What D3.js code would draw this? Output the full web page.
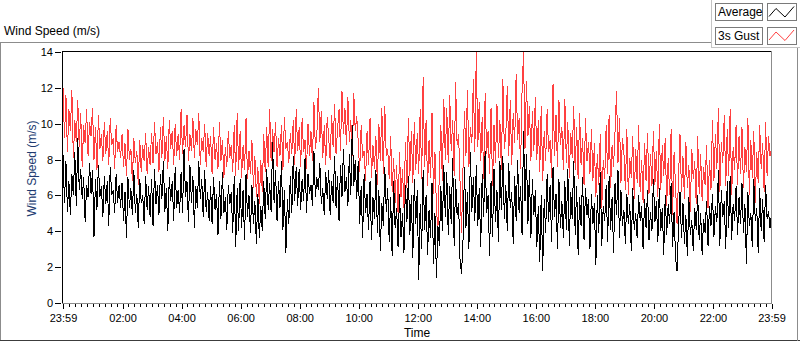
<!DOCTYPE html>
<html>
<head>
<meta charset="utf-8">
<script src="https://cdn.jsdelivr.net/npm/d3@7"></script>
<style>
  body { margin: 0; background: #fff; }
  svg text { font-family: "Liberation Sans", Arial, sans-serif; fill: #000; }
</style>
</head>
<body>
<script>
// one sample every 3 minutes, 23:59 -> 23:59
var sampleMinutes = 3;
var xTickLabels = ["23:59", "02:00", "04:00", "06:00", "08:00", "10:00", "12:00",
                   "14:00", "16:00", "18:00", "20:00", "22:00", "23:59"];
var yTicks = [0, 2, 4, 6, 8, 10, 12, 14];
var seriesNames = ["Average", "3s Gust"];

// Average wind speed (m/s), 20 samples per hour
var avgSpeed = [
  8.3,5.6,7.9,5.1,6.8,4.9,7.2,6.0,8.4,5.4,9.2,6.3,7.5,5.8,7.0,4.5,6.6,5.9,7.8,6.1,
  7.4,3.7,6.9,5.2,7.7,5.9,6.5,4.8,7.1,5.5,6.8,4.3,7.6,6.0,6.3,5.0,7.2,5.6,6.6,5.3,
  6.7,4.6,6.2,3.6,7.0,5.3,6.4,4.9,7.4,5.0,6.1,4.2,6.9,5.6,6.0,4.4,7.1,5.2,6.5,4.8,
  6.9,4.3,7.5,5.5,6.6,4.9,7.2,5.8,7.9,5.1,6.4,4.0,7.0,5.7,6.8,4.6,7.6,5.3,6.3,5.0,
  7.3,5.0,8.6,5.9,6.8,4.5,7.7,5.6,7.1,4.2,6.5,5.3,7.9,5.8,6.9,4.8,7.4,5.1,6.2,4.6,
  6.5,4.4,7.0,5.2,6.1,3.8,6.8,4.7,7.3,5.0,5.9,4.1,6.6,5.5,6.2,3.9,7.1,3.1,6.4,4.0,
  6.9,4.2,6.3,3.5,7.2,4.8,6.0,3.9,6.6,4.4,5.7,3.3,6.1,3.6,5.4,4.0,6.8,4.7,7.5,5.2,
  6.7,5.1,9.0,5.6,7.4,4.6,6.8,5.3,7.9,4.1,6.3,2.8,5.8,4.4,7.1,5.0,8.2,5.7,7.6,5.4,
  7.5,5.2,6.9,5.7,8.1,5.0,7.2,6.1,6.6,5.4,8.5,5.9,7.0,6.3,7.8,5.5,6.4,4.9,7.3,5.8,
  7.4,4.9,6.8,5.6,8.2,5.3,7.1,4.6,7.7,5.9,8.6,6.2,7.0,5.4,8.3,6.0,9.9,6.5,8.0,5.8,
  7.9,4.4,6.5,3.6,7.2,5.0,6.1,4.1,6.8,3.5,5.9,4.7,7.4,3.9,6.3,2.9,5.6,4.3,7.6,5.1,
  6.4,3.4,5.9,2.6,6.8,4.2,5.3,3.1,6.1,3.7,5.0,2.8,6.6,4.5,7.1,3.8,6.0,2.5,6.9,4.4,
  6.3,1.3,5.5,3.0,7.4,4.1,6.0,2.7,5.2,3.6,6.7,2.2,5.0,1.4,4.3,3.2,6.5,4.0,7.7,4.8,
  7.3,3.8,6.5,4.4,8.1,3.2,6.9,4.9,5.6,2.4,1.6,3.5,7.6,4.2,6.2,3.0,8.4,5.1,7.0,4.6,
  7.7,4.3,6.4,3.1,7.2,4.8,8.5,5.0,6.0,2.6,6.8,3.7,7.5,4.5,6.3,3.4,7.9,5.2,8.2,4.7,
  6.6,4.0,7.8,5.3,6.2,3.3,7.1,4.6,8.0,5.0,6.5,3.8,9.6,5.7,8.3,4.4,7.4,3.6,6.9,4.9,
  6.3,3.1,5.4,2.3,6.0,1.8,5.8,3.9,7.2,4.5,6.6,3.4,7.6,4.8,6.1,3.0,6.9,4.2,5.7,3.6,
  6.8,4.1,7.5,3.2,6.2,4.7,7.9,3.8,6.5,2.7,5.9,4.3,7.0,3.5,6.4,4.9,5.8,3.0,6.1,4.4,
  5.6,2.1,6.0,3.9,7.3,3.2,5.4,4.6,6.6,3.4,7.1,4.1,5.9,2.8,6.7,4.9,7.4,3.6,6.3,4.3,
  5.2,3.3,6.1,4.4,5.5,2.9,6.4,4.1,5.0,3.6,6.0,4.6,5.4,3.0,5.8,4.2,6.3,3.5,5.1,4.0,
  6.9,4.5,5.7,3.4,6.4,4.0,5.3,2.7,6.0,3.8,5.5,4.4,6.7,3.1,5.1,2.5,1.8,4.2,6.2,3.6,
  5.6,3.3,4.9,2.6,5.9,3.8,4.6,2.9,5.3,4.1,6.0,3.5,5.0,2.7,4.7,3.9,5.7,3.2,5.4,4.3,
  6.1,3.7,5.4,4.5,7.4,3.2,6.3,4.8,5.7,3.0,6.8,4.2,7.1,3.5,5.5,4.6,6.5,3.8,5.9,4.4,
  6.7,3.9,5.5,2.2,6.2,4.3,5.0,3.1,6.9,4.6,5.3,2.8,6.4,4.0,5.8,3.4,6.6,4.7,5.1,4.2,
  5.0
];

// 3 second gust (m/s), 20 samples per hour
var gustSpeed = [
  12.0,9.2,11.6,8.4,10.8,9.6,11.9,8.1,10.2,9.0,11.3,8.7,10.6,7.6,9.9,8.9,10.8,8.2,10.1,9.3,
  10.9,8.0,9.8,7.4,10.5,8.6,9.4,7.9,10.1,8.3,9.6,7.7,10.3,8.8,9.2,7.5,9.9,8.4,9.0,8.1,
  9.4,7.6,8.9,7.1,9.7,8.0,8.6,6.8,9.2,7.8,8.5,6.6,9.1,7.3,8.8,7.9,9.5,7.2,8.7,7.7,
  9.5,7.8,10.1,8.3,9.0,7.3,9.8,8.1,10.4,7.9,9.3,7.5,10.2,8.6,9.6,7.7,10.0,8.2,9.4,8.0,
  10.8,8.3,9.9,8.7,10.5,7.9,9.4,8.5,10.3,8.1,9.7,8.8,10.6,7.7,9.2,8.4,10.0,7.6,9.5,8.2,
  9.3,7.2,9.8,8.0,8.9,7.5,10.1,7.9,9.1,7.0,8.7,7.6,9.6,8.1,8.8,7.3,9.9,7.1,10.6,7.4,
  9.6,7.0,8.8,7.4,10.3,6.9,8.5,7.2,9.1,6.4,8.2,5.9,7.6,5.5,8.0,6.2,9.4,7.3,9.8,7.6,
  10.8,7.9,9.7,8.4,10.1,7.6,9.2,8.2,9.9,7.4,10.4,8.6,9.0,7.8,9.5,8.3,10.2,7.7,10.8,8.5,
  9.8,7.6,10.3,8.4,9.1,7.5,10.0,8.2,9.6,7.9,11.2,8.6,9.4,12.0,9.0,10.7,8.1,9.9,7.7,10.4,
  9.2,8.0,10.5,8.7,11.1,8.3,9.7,10.8,8.5,11.8,9.4,10.9,8.8,11.5,9.0,10.2,8.2,11.7,9.6,10.4,
  9.0,7.3,9.9,8.1,8.5,6.8,9.6,7.7,10.3,7.0,8.8,7.5,9.3,6.6,10.0,7.9,10.9,7.2,11.0,8.2,
  8.6,6.9,9.3,6.2,8.1,5.6,7.7,5.0,8.4,5.9,7.5,5.3,9.0,6.4,10.3,7.1,9.6,6.7,10.1,7.4,
  9.5,7.2,10.8,6.9,12.6,7.6,10.2,6.5,9.1,7.0,10.6,6.1,8.4,5.2,4.1,7.4,9.9,6.8,11.4,8.0,
  10.9,7.8,11.6,8.5,10.2,7.1,12.3,8.8,9.4,6.7,3.9,7.5,10.7,8.2,11.9,7.6,9.8,8.9,12.5,8.4,
  14.0,8.7,11.2,7.9,10.4,6.9,11.7,8.3,9.6,7.2,10.9,6.5,9.9,7.8,11.1,8.1,10.2,7.4,12.5,8.6,
  9.4,12.1,8.2,11.3,7.7,10.6,8.9,12.8,9.1,10.3,7.5,11.8,14.0,8.6,12.4,9.3,11.0,7.9,10.7,8.5,
  11.5,8.0,10.2,7.3,11.0,6.8,9.6,7.9,10.8,8.4,9.1,7.0,12.2,8.2,10.5,7.6,11.3,8.8,9.8,7.4,
  11.4,7.8,10.1,7.0,9.5,8.1,11.0,7.4,9.8,6.9,10.6,7.7,9.2,6.6,10.3,7.9,9.0,7.2,9.7,6.8,
  8.9,5.9,8.3,6.6,9.4,5.3,8.0,6.9,9.9,7.2,10.5,6.4,8.8,7.6,9.6,11.8,7.8,10.3,6.7,9.2,
  8.4,6.3,9.7,6.0,8.1,7.0,9.3,5.8,8.6,6.7,9.9,6.2,8.0,5.6,8.9,6.8,9.5,6.1,8.3,6.5,
  9.6,6.6,8.5,5.9,10.0,6.3,8.8,7.1,9.2,5.4,8.1,6.0,9.7,4.9,8.4,6.5,4.4,7.0,9.4,6.2,
  8.2,5.8,9.0,6.4,7.7,5.1,8.6,6.9,7.9,5.5,9.3,6.1,8.3,5.7,7.6,6.6,8.8,5.3,8.0,6.3,
  10.2,6.8,9.4,7.5,10.9,6.2,9.0,7.8,10.5,6.5,9.7,7.1,10.8,6.0,8.7,7.4,9.9,6.6,9.3,7.2,
  9.8,6.4,8.7,7.3,10.3,6.0,9.1,7.0,9.6,5.6,8.4,6.7,9.9,7.5,8.9,6.2,10.1,7.1,9.3,8.2,
  8.6
];

var width = 800;
var height = 342;

var svg = d3.select("body")
  .append("svg")
  .attr("width", width)
  .attr("height", height);

var start = new Date(2015, 5, 1, 23, 59);
var end = new Date(2015, 5, 2, 23, 59);

var x = d3.scaleTime()
  .domain([start, end])
  .range([63, 771.5]);

var y = d3.scaleLinear()
  .domain([0, 14])
  .range([303, 52]);

function sampleTime(i) {
  return new Date(start.getTime() + i * sampleMinutes * 60000);
}

// frame lines
function hline(x1, x2, yy, col) {
  svg.append("line").attr("x1", x1).attr("x2", x2).attr("y1", yy).attr("y2", yy)
    .attr("stroke", col).attr("shape-rendering", "crispEdges");
}
function vline(xx, y1, y2, col) {
  svg.append("line").attr("x1", xx).attr("x2", xx).attr("y1", y1).attr("y2", y2)
    .attr("stroke", col).attr("shape-rendering", "crispEdges");
}

hline(0, 712, 42.5, "#8c8c8c");
vline(0.5, 42, 341, "#8c8c8c");
hline(0, 800, 340.5, "#3c3c3c");
vline(797.5, 48, 341, "#8c8c8c");
// legend panel
vline(711.5, 0, 48, "#c4c4c4");
hline(711, 800, 47.5, "#c4c4c4");

svg.append("text")
  .attr("x", 4)
  .attr("y", 35)
  .style("font-size", "12px")
  .text("Wind Speed (m/s)");

// data
svg.append("clipPath").attr("id", "plotclip")
  .append("rect").attr("x", 63).attr("y", 52).attr("width", 709).attr("height", 251);

var line = d3.line()
  .x(function(d, i) { return x(sampleTime(i)); })
  .y(function(d) { return y(d); });

var plot = svg.append("g").attr("clip-path", "url(#plotclip)");

plot.append("path")
  .datum(gustSpeed)
  .attr("d", line)
  .attr("fill", "none")
  .attr("stroke", "#ff4040")
  .attr("stroke-width", 1)
  .attr("shape-rendering", "crispEdges");

plot.append("path")
  .datum(avgSpeed)
  .attr("d", line)
  .attr("fill", "none")
  .attr("stroke", "#000")
  .attr("stroke-width", 1)
  .attr("shape-rendering", "crispEdges");

// plot border
hline(62, 772, 51.5, "#000");
vline(62.5, 51, 303, "#000");
vline(771.5, 51, 303.5, "#8c8c8c");
hline(62, 772, 303.5, "#8c8c8c");

// y axis
var yaxis = d3.axisLeft(y)
  .tickValues(yTicks)
  .tickSize(6)
  .tickPadding(2)
  .tickFormat(d3.format("d"));

var gy = svg.append("g")
  .attr("transform", "translate(61,0)")
  .call(yaxis);
gy.select(".domain").remove();
gy.selectAll("text").style("font-size", "11px").attr("fill", "#000").style("font-family", null);
gy.selectAll("line").attr("stroke", "#000").attr("shape-rendering", "crispEdges");

// x axis
var majorDates = xTickLabels.map(function(l, i) {
  if (i === 0) return start;
  if (i === xTickLabels.length - 1) return end;
  return new Date(2015, 5, 2, i * 2, 0);
});
var minorDates = d3.timeMinute.every(12).range(new Date(2015, 5, 2, 0, 1), end)
  .filter(function(d) { return d.getMinutes() !== 0 || d.getHours() % 2 !== 0; });

var xminor = d3.axisBottom(x).tickValues(minorDates).tickSize(3).tickFormat("");
var gxm = svg.append("g").attr("transform", "translate(0,304)").call(xminor);
gxm.select(".domain").remove();
gxm.selectAll("line").attr("stroke", "#000").attr("shape-rendering", "crispEdges");

var xaxis = d3.axisBottom(x)
  .tickValues(majorDates)
  .tickSize(5)
  .tickPadding(5)
  .tickFormat(function(d, i) { return xTickLabels[i]; });
var gx = svg.append("g").attr("transform", "translate(0,304)").call(xaxis);
gx.select(".domain").remove();
gx.selectAll("text").style("font-size", "11px").attr("fill", "#000");
gx.selectAll("line").attr("stroke", "#000").attr("shape-rendering", "crispEdges");

// axis titles
svg.append("text")
  .attr("transform", "translate(36,168.5) rotate(-90)")
  .attr("text-anchor", "middle")
  .style("font-size", "12px")
  .style("fill", "#203a70")
  .text("Wind Speed (m/s)");

svg.append("text")
  .attr("x", 417)
  .attr("y", 337)
  .attr("text-anchor", "middle")
  .style("font-size", "12px")
  .text("Time");

// legend
var legendColors = ["#000", "#ff4040"];
var legend = svg.selectAll(".leg")
  .data(seriesNames)
  .enter().append("g")
  .attr("class", "leg")
  .attr("transform", function(d, i) { return "translate(0," + (i * 23.5) + ")"; });

legend.append("rect")
  .attr("x", 715.5).attr("y", 3.5).attr("width", 47).attr("height", 17)
  .attr("fill", "#fff").attr("stroke", "#7a7a7a").attr("shape-rendering", "crispEdges");
legend.append("rect")
  .attr("x", 767.5).attr("y", 3.5).attr("width", 29).attr("height", 17)
  .attr("fill", "#fff").attr("stroke", "#7a7a7a").attr("shape-rendering", "crispEdges");
legend.append("text")
  .attr("x", 718).attr("y", 16)
  .style("font-size", "12px")
  .text(function(d) { return d; });
legend.append("path")
  .attr("d", "M769,16.5L776,8.5L785,17L794,6.5")
  .attr("fill", "none")
  .attr("stroke", function(d, i) { return legendColors[i]; });
</script>
</body>
</html>
